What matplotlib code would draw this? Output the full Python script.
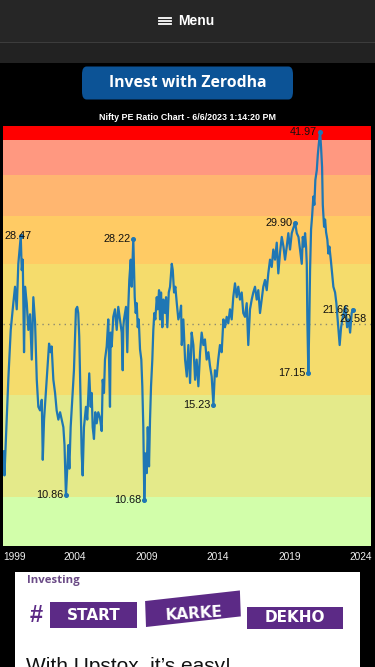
import matplotlib.pyplot as plt
from matplotlib.patches import Rectangle, FancyBboxPatch
from matplotlib.lines import Line2D
from matplotlib.ticker import NullLocator

# Nifty PE (year as decimal, PE value)
years = [1999.01, 1999.08, 1999.24, 1999.35, 1999.52, 1999.70, 1999.82, 1999.94,
         2000.05, 2000.12, 2000.22, 2000.29, 2000.36, 2000.45, 2000.52, 2000.64,
         2000.75, 2000.87, 2000.99, 2001.10, 2001.22, 2001.34, 2001.45, 2001.57,
         2001.69, 2001.76, 2001.85, 2002.03, 2002.20, 2002.31, 2002.38, 2002.50,
         2002.62, 2002.73, 2002.85, 2002.97, 2003.08, 2003.20, 2003.28, 2003.38,
         2003.43, 2003.55, 2003.62, 2003.71, 2003.85, 2003.94, 2004.08, 2004.17,
         2004.24, 2004.31, 2004.41, 2004.48, 2004.55, 2004.64, 2004.78, 2004.87,
         2005.01, 2005.11, 2005.18, 2005.25, 2005.34, 2005.43, 2005.53, 2005.64,
         2005.76, 2005.88, 2005.95, 2006.04, 2006.11, 2006.23, 2006.34, 2006.46,
         2006.51, 2006.58, 2006.69, 2006.81, 2006.93, 2007.04, 2007.16, 2007.28,
         2007.35, 2007.39, 2007.44, 2007.58, 2007.67, 2007.74, 2007.81, 2007.91,
         2007.98, 2008.09, 2008.14, 2008.19, 2008.26, 2008.33, 2008.40, 2008.47,
         2008.56, 2008.65, 2008.72, 2008.79, 2008.86, 2008.93, 2009.03, 2009.10,
         2009.19, 2009.26, 2009.33, 2009.42, 2009.49, 2009.56, 2009.63, 2009.73,
         2009.80, 2009.89, 2009.96, 2010.03, 2010.12, 2010.19, 2010.31, 2010.38,
         2010.47, 2010.57, 2010.66, 2010.78, 2010.85, 2010.94, 2011.03, 2011.13,
         2011.24, 2011.36, 2011.43, 2011.48, 2011.59, 2011.71, 2011.83, 2011.94,
         2012.06, 2012.17, 2012.29, 2012.41, 2012.52, 2012.64, 2012.76, 2012.87,
         2012.99, 2013.10, 2013.22, 2013.34, 2013.45, 2013.57, 2013.69, 2013.80,
         2013.92, 2014.03, 2014.15, 2014.27, 2014.39, 2014.50, 2014.62, 2014.73,
         2014.85, 2014.97, 2015.08, 2015.20, 2015.32, 2015.43, 2015.55, 2015.67,
         2015.78, 2015.90, 2016.02, 2016.13, 2016.25, 2016.37, 2016.48, 2016.60,
         2016.72, 2016.83, 2016.95, 2017.07, 2017.18, 2017.30, 2017.42, 2017.53,
         2017.65, 2017.77, 2017.88, 2018.00, 2018.12, 2018.23, 2018.35, 2018.47,
         2018.59, 2018.70, 2018.82, 2018.93, 2019.05, 2019.17, 2019.29, 2019.41,
         2019.52, 2019.64, 2019.75, 2019.87, 2019.94, 2020.03, 2020.10, 2020.17,
         2020.22, 2020.26, 2020.33, 2020.40, 2020.45, 2020.52, 2020.59, 2020.68,
         2020.75, 2020.82, 2020.92, 2020.99, 2021.06, 2021.15, 2021.22, 2021.29,
         2021.34, 2021.43, 2021.50, 2021.57, 2021.66, 2021.73, 2021.80, 2021.90,
         2021.99, 2022.08, 2022.20, 2022.29, 2022.38, 2022.45, 2022.52, 2022.62,
         2022.71, 2022.80, 2022.92, 2023.04, 2023.15, 2023.25, 2023.36, 2023.43]
pe = [12.8, 11.7, 14.4, 16.7, 20.1, 22.2, 23.6, 21.7,
      25.7, 26.8, 28.47, 25.1, 26.1, 18.5, 23.6, 22.2,
      20.1, 21.3, 18.0, 22.7, 20.7, 16.7, 15.1, 14.9,
      15.5, 12.4, 14.4, 16.7, 19.1, 18.5, 18.9, 16.7,
      15.9, 14.9, 14.4, 14.8, 14.4, 14.0, 13.1, 10.86,
      11.5, 13.1, 12.0, 14.0, 15.9, 17.3, 21.7, 21.9,
      21.4, 19.6, 15.3, 12.7, 11.7, 14.0, 15.1, 14.4,
      17.1, 15.1, 15.9, 14.0, 13.4, 14.8, 14.2, 14.8,
      14.5, 13.8, 16.7, 15.9, 18.0, 18.9, 20.9, 15.1,
      19.9, 18.9, 21.1, 21.7, 20.1, 21.9, 20.9, 19.9,
      17.3, 20.3, 20.9, 21.9, 18.5, 21.9, 24.2, 26.1,
      23.6, 28.22, 25.1, 22.7, 21.4, 22.2, 20.3, 20.9,
      18.7, 18.0, 16.3, 14.0, 10.68, 12.7, 11.8, 14.0,
      12.1, 14.4, 16.3, 18.0, 20.1, 21.4, 20.9, 22.7,
      21.7, 23.3, 20.9, 23.1, 20.3, 22.5, 21.4, 22.7,
      20.3, 23.1, 23.6, 25.7, 25.1, 23.1, 23.6, 22.2,
      20.9, 21.4, 22.0, 19.0, 20.9, 18.0, 16.9, 19.0,
      16.5, 19.9, 19.0, 16.7, 18.0, 16.3, 18.5, 19.9,
      19.0, 19.4, 18.0, 18.5, 17.6, 16.9, 15.23, 17.3,
      16.9, 18.0, 19.0, 18.5, 20.9, 20.3, 21.1, 20.6,
      21.7, 20.9, 22.7, 23.9, 22.7, 23.6, 22.5, 23.1,
      21.4, 21.1, 22.2, 19.0, 21.7, 22.5, 23.1, 23.6,
      22.5, 23.3, 21.4, 22.5, 23.6, 24.2, 23.3, 24.8,
      26.1, 25.4, 27.1, 26.1, 27.8, 24.8, 26.8, 28.4,
      27.4, 26.1, 27.4, 28.8, 27.1, 28.8, 29.4, 29.90,
      28.8, 28.4, 27.1, 25.7, 28.4, 27.4, 28.8, 27.4,
      25.7, 20.9, 17.15, 20.9, 25.1, 29.2, 30.6, 33.0,
      32.0, 35.1, 36.4, 38.5, 40.1, 41.97, 39.6, 36.8,
      32.0, 29.5, 30.3, 28.9, 28.1, 26.7, 27.4, 26.1,
      24.8, 23.6, 23.1, 22.2, 20.9, 19.9, 19.0, 20.3,
      20.9, 21.4, 21.9, 20.3, 20.9, 19.9, 21.4, 21.66]

# highs / lows that carry a value label
mark_years = [2000.22, 2003.38, 2008.09, 2008.86, 2013.69, 2019.41, 2020.33, 2021.15, 2023.43]
mark_pe = [28.47, 10.86, 28.22, 10.68, 15.23, 29.90, 17.15, 41.97, 21.66]
avg_pe = 20.58

band_edges = [9.0, 10.8, 15.8, 25.7, 30.7, 35.7, 40.7, 42.9]
band_colors = ['#d2feaa', '#e4ea8a', '#f5dc6c', '#ffcb64', '#ffb670', '#ff9880', '#ff0000']
tick_years = [1999, 2004, 2009, 2014, 2019, 2024]

W, H = 375, 667
plt.rcParams['font.family'] = ['Liberation Sans', 'DejaVu Sans']

fig = plt.figure(figsize=(W / 100, H / 100), dpi=100, facecolor='black')


def fx(x):
    return x / W


def fy(y):
    return 1 - y / H


def rect(x, y, w, h, **kw):
    fig.add_artist(Rectangle((fx(x), fy(y + h)), w / W, h / H,
                             transform=fig.transFigure, **kw))


# header bar
rect(0, 0, W, 42, color='#262626', lw=0)
rect(0, 42, W, 1.5, color='#3c3c3c', lw=0)
rect(0, 43.5, W, 19.5, color='#222222', lw=0)
for yy in [17.7, 21, 24.3]:
    fig.add_artist(Line2D([fx(159), fx(171)], [fy(yy), fy(yy)], color='white',
                          lw=1.3, transform=fig.transFigure))
fig.text(fx(178), fy(21), 'Menu', color='white', fontsize=10, fontweight='bold',
         ha='left', va='center')

# zerodha button
fig.add_artist(FancyBboxPatch((fx(82), fy(99.5)), 211 / W, 33 / H,
                              boxstyle='round,pad=0,rounding_size=0.012',
                              transform=fig.transFigure, color='#0c5396', lw=0))
fig.text(fx(187.5), fy(83), 'Invest with Zerodha', color='white', fontsize=11.3,
         fontweight='bold', ha='center', va='center', family=['Open Sans', 'DejaVu Sans'])

fig.text(fx(187.5), fy(117), 'Nifty PE Ratio Chart - 6/6/2023 1:14:20 PM',
         color='white', fontsize=6.4, fontweight='bold', ha='center', va='center')

# chart
ax = fig.add_axes([fx(3.3), fy(546), (370.7 - 3.3) / W, 420 / H])
ax.set_yscale('log')
ax.set_xlim(1999.0, 2024.69)
ax.set_ylim(band_edges[0], band_edges[-1])
for lo, hi, c in zip(band_edges[:-1], band_edges[1:], band_colors):
    ax.axhspan(lo, hi, color=c, lw=0)
ax.axhline(avg_pe, color='#8a8a72', lw=1, ls=(0, (1, 3)))
ax.plot(years, pe, color='#1f77b4', lw=1.6)
ax.plot(mark_years, mark_pe, 'o', ms=2.6, color='#1f77b4')

for yr, v in zip(mark_years, mark_pe):
    if yr < 2001:
        ax.annotate(f'{v:.2f}', (1999.05, v), ha='left', va='center',
                    fontsize=7.8, color='#111111')
    else:
        ax.annotate(f'{v:.2f}', (yr, v), xytext=(-3, 0), textcoords='offset pixels',
                    ha='right', va='center', fontsize=7.8, color='#111111')
ax.annotate(f'{avg_pe:.2f}', (2024.41, avg_pe), xytext=(0, 5), textcoords='offset pixels',
            ha='right', va='center', fontsize=7.8, color='#111111')

ax.yaxis.set_major_locator(NullLocator())
ax.yaxis.set_minor_locator(NullLocator())
ax.set_xticks(tick_years)
ax.set_xticklabels([str(t) for t in tick_years])
ax.tick_params(axis='x', length=0, colors='#eeeeee', labelsize=7.3, pad=4.5)
ax.get_xticklabels()[0].set_ha('left')
for s in ax.spines.values():
    s.set_visible(False)

# ad block at the bottom (its last line is cut by the screen edge, as in the screenshot)
rect(15, 571.5, 345, 100, color='white', lw=0)
fig.text(fx(27), fy(581), 'Investing', color='#6a4a86', fontsize=8.2,
         fontweight='bold', ha='left', va='center', family=['Open Sans', 'DejaVu Sans'])
fig.text(fx(36), fy(615), '#', color='#5c2a86', fontsize=17, fontweight='bold',
         ha='center', va='center')
rect(50, 602, 87, 26, color='#5c2a86', lw=0)
fig.text(fx(93.5), fy(615), 'START', color='white', fontsize=11, fontweight='bold',
         ha='center', va='center', family=['DejaVu Sans'])
fig.add_artist(Rectangle((fx(146), fy(627)), 95 / W, 26 / H, angle=3.6,
                         transform=fig.transFigure, color='#5c2a86', lw=0))
fig.text(fx(193.5), fy(613.5), 'KARKE', color='white', fontsize=11, fontweight='bold',
         ha='center', va='center', rotation=3.6, family=['DejaVu Sans'])
rect(247, 606.5, 96.5, 22, color='#5c2a86', lw=0)
fig.text(fx(295), fy(617.5), 'DEKHO', color='white', fontsize=11, fontweight='bold',
         ha='center', va='center', family=['DejaVu Sans'])
fig.text(fx(26), fy(672), 'With Upstox, it\u2019s easy!', color='#111111', fontsize=15,
         ha='left', va='baseline')

fig.savefig('out.png', dpi=100, facecolor='black')
